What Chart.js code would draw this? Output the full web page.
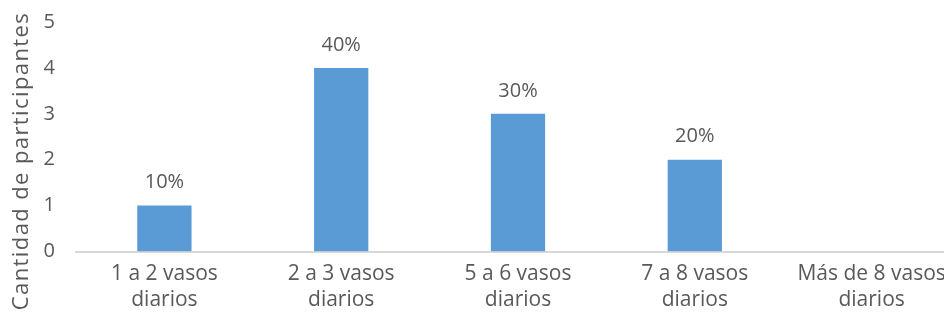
<!DOCTYPE html>
<html>
<head>
<meta charset="utf-8">
<script src="https://cdn.jsdelivr.net/npm/chart.js@4/dist/chart.umd.min.js"></script>
<style>
  html, body { margin: 0; padding: 0; background: #fff; overflow: hidden; }
  #wrap { width: 960px; height: 322px; position: relative; }
</style>
</head>
<body>
<div id="wrap"><canvas id="c"></canvas></div>
<script>
// Consumo diario de agua por participante
const categories = [
  ["1 a 2 vasos", "diarios"],
  ["2 a 3 vasos", "diarios"],
  ["5 a 6 vasos", "diarios"],
  ["7 a 8 vasos", "diarios"],
  ["Más de 8 vasos", "diarios"]
];
const participants = [1, 4, 3, 2, 0];
const yTicks = [0, 1, 2, 3, 4, 5];
const yTitle = 'Cantidad de participantes';

const total = participants.reduce((a, b) => a + b, 0);
const textColor = '#595959';
const fontFamily = "'Open Sans', 'Liberation Sans', sans-serif";

// Percentage of participants written above each bar
const percentLabels = {
  id: 'percentLabels',
  afterDatasetsDraw(chart) {
    const ctx = chart.ctx;
    const meta = chart.getDatasetMeta(0);
    ctx.save();
    ctx.font = '20px ' + fontFamily;
    ctx.fillStyle = textColor;
    ctx.textAlign = 'center';
    ctx.textBaseline = 'middle';
    meta.data.forEach((bar, i) => {
      const v = participants[i];
      if (!v) return;
      const pct = Math.round(v / total * 100) + '%';
      ctx.fillText(pct, bar.x, bar.y - 23);
    });
    ctx.restore();
  }
};

// Vertical axis title, centred on the full height of the figure
const sideTitle = {
  id: 'sideTitle',
  afterDraw(chart) {
    const ctx = chart.ctx;
    ctx.save();
    ctx.font = '22px ' + fontFamily;
    ctx.fillStyle = textColor;
    if ('letterSpacing' in ctx) ctx.letterSpacing = '1.4px';
    ctx.textAlign = 'center';
    ctx.textBaseline = 'middle';
    ctx.translate(22, chart.height / 2);
    ctx.rotate(-Math.PI / 2);
    ctx.fillText(yTitle, 0, 0);
    ctx.restore();
  }
};

new Chart(document.getElementById('c'), {
  type: 'bar',
  data: {
    labels: categories,
    datasets: [{
      data: participants,
      backgroundColor: '#5B9BD5',
      borderWidth: 0,
      barPercentage: 1,
      categoryPercentage: 0.307
    }]
  },
  options: {
    responsive: true,
    maintainAspectRatio: false,
    animation: false,
    layout: { padding: { top: 19, left: 0, right: 0, bottom: 0 } },
    plugins: { legend: { display: false }, tooltip: { enabled: false } },
    scales: {
      x: {
        grid: { display: false, drawTicks: false },
        border: { color: '#d9d9d9', width: 2 },
        ticks: {
          color: textColor,
          font: { family: fontFamily, size: 21, lineHeight: 1.25 },
          padding: 9,
          maxRotation: 0,
          autoSkip: false
        }
      },
      y: {
        min: 0,
        max: 5,
        afterBuildTicks(scale) { scale.ticks = yTicks.map(v => ({ value: v })); },
        afterFit(scale) { scale.width = 76; },
        grid: { display: false, drawTicks: false },
        border: { display: false },
        ticks: {
          color: textColor,
          font: { family: fontFamily, size: 20, lineHeight: 0.1 },
          padding: 21
        }
      }
    }
  },
  plugins: [percentLabels, sideTitle]
});
</script>
</body>
</html>
